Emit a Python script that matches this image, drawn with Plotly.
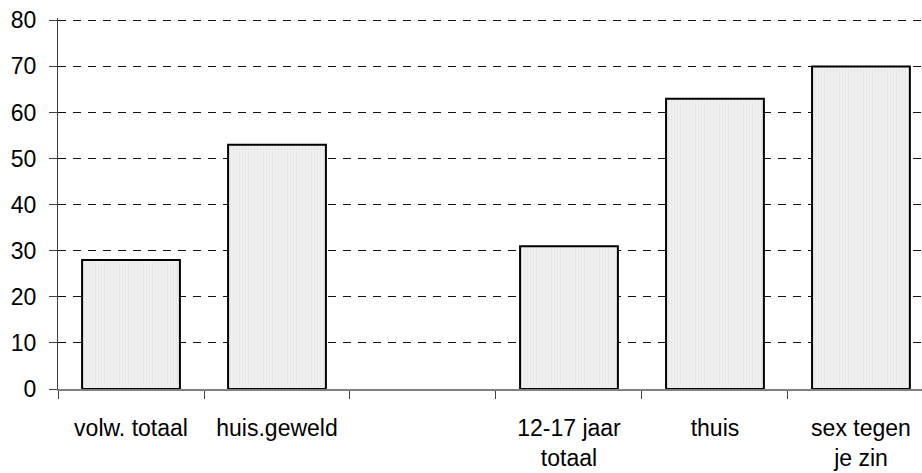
import plotly.graph_objects as go

# Share (%) per group; the fourth slot is an intentional empty gap
categories = ["volw. totaal", "huis.geweld", " ", "12-17 jaar<br>totaal", "thuis", "sex tegen<br>je zin"]
values = [28, 53, None, 31, 63, 70]
y_ticks = [0, 10, 20, 30, 40, 50, 60, 70, 80]

fig = go.Figure(
    go.Bar(
        x=categories,
        y=values,
        marker=dict(
            color="#f0f0f0",
            line=dict(color="black", width=2),
            pattern=dict(shape="|", size=3, solidity=0.25,
                         fgcolor="#d9d9d9", bgcolor="#f0f0f0"),
        ),
        hoverinfo="skip",
    )
)

font = dict(family="Liberation Sans, Arial, sans-serif", size=23, color="black")

fig.update_layout(
    width=922,
    height=473,
    margin=dict(l=58, r=0, t=18, b=84),
    paper_bgcolor="white",
    plot_bgcolor="white",
    bargap=0.33,
    showlegend=False,
    font=font,
)

fig.update_xaxes(
    type="category",
    categoryorder="array",
    categoryarray=categories,
    range=[-0.5, 5.418],
    tickson="boundaries",
    ticks="outside",
    ticklen=8,
    tickwidth=1,
    tickcolor="#404040",
    showline=True,
    linecolor="#808080",
    linewidth=2,
    showgrid=False,
    zeroline=False,
    ticklabelstandoff=17,
    tickfont=font,
)

# slight headroom above 80 so its gridline is kept
fig.update_yaxes(
    range=[0, 80.5],
    tickvals=y_ticks,
    ticks="outside",
    ticklen=8,
    tickwidth=1,
    tickcolor="#404040",
    showline=True,
    linecolor="#404040",
    linewidth=1,
    showgrid=True,
    gridcolor="#111111",
    gridwidth=1,
    griddash="8px,7px",
    zeroline=False,
    ticklabelstandoff=8,
    tickfont=font,
)

fig.write_html("out.html")
